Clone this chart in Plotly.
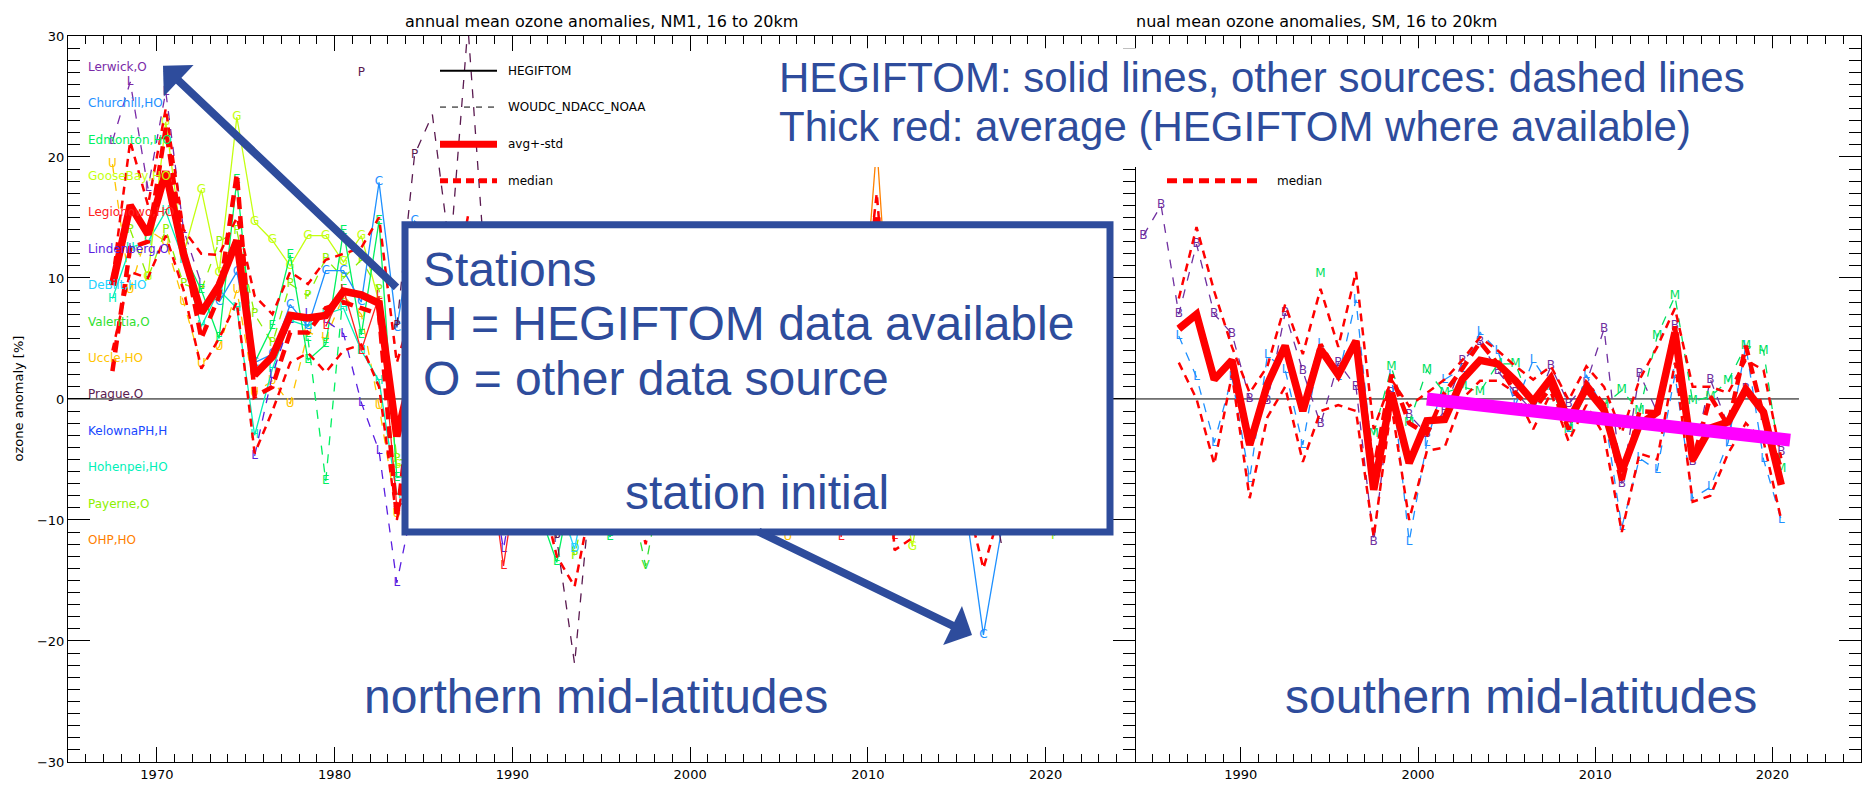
import plotly.graph_objects as go

W, H = 1865, 794
BLUE = "#2E4C9C"

def px(p):
    return p / W

def py(p):
    return 1 - p / H

# ---------------- Northern mid-latitudes (NM1) ----------------
nm_years = list(range(1967, 2022))
nm_avg = [9.4, 16.0, 13.6, 18.8, 12.0, 7.1, 9.4, 13.1, 2.0, 3.5, 6.9, 6.7, 6.9, 8.9, 8.6, 7.9, -3.1,
          3.0, 4.0, 1.0, 6.0, 3.0, -4.0, -1.0, -2.0, -7.0, -9.0, -2.0, -5.0, -1.0, -6.0, 1.0, -2.0,
          -1.0, -3.0, -1.0, -4.0, 0.0, -5.0, -1.0, -2.0, -6.0, -1.0, 15.0, -7.0, -6.0, -2.0, -1.0,
          -3.0, -8.0, -4.0, -2.0, 0.0, -3.0, -4.0]
nm_upper = [10.0, 21.3, 16.0, 24.0, 14.0, 12.0, 11.9, 15.0, 8.5, 7.0, 10.5, 9.5, 11.5, 12.0, 12.5, 15.0, 3.0,
            8.0, 10.0, 7.0, 15.1, 8.0, 2.0, 4.0, 3.0, -1.0, -2.0, 4.0, 1.0, 4.0, 0.0, 6.0, 3.0,
            4.0, 2.0, 4.0, 1.0, 5.0, 0.0, 4.0, 3.0, -1.0, 4.0, 17.0, -1.0, 0.0, 3.0, 4.0,
            2.0, -2.0, 1.0, 3.0, 5.0, 2.0, 1.0]
nm_lower = [4.0, 10.5, 10.0, 13.5, 9.0, 2.5, 5.0, 8.0, -4.5, -1.0, 3.0, 3.8, 2.2, 4.0, 4.5, 1.0, -10.0,
            -2.0, -2.0, -5.0, -3.0, -2.0, -10.0, -6.0, -7.0, -13.0, -15.5, -8.0, -11.0, -6.0, -12.0, -4.0, -7.0,
            -6.0, -8.0, -6.0, -9.0, -5.0, -10.0, -6.0, -7.0, -11.0, -6.0, 9.0, -12.5, -11.5, -7.0, -6.0,
            -8.0, -14.0, -9.0, -7.0, -5.0, -8.0, -9.0]
nm_median = [2.3, 12.5, 13.0, 22.4, 12.5, 5.0, 8.5, 18.6, 0.2, 1.0, 5.5, 5.5, 7.5, 8.0, 7.5, 7.0, -9.8,
             2.0, 4.0, 0.0, 6.0, 2.0, -4.0, -1.0, -2.0, -7.0, -9.0, -2.0, -5.0, -1.0, -6.0, 1.0, -2.0,
             -1.0, -3.0, -1.0, -4.0, 0.0, -5.0, -1.0, -2.0, -6.0, -1.0, 12.0, -7.0, -6.0, -2.0, -1.0,
             -3.0, -8.0, -4.0, -2.0, 0.0, -3.0, -4.0]

nm_station_labels = ["Lerwick,O", "Churchill,HO", "Edmonton,HO", "GooseBay,HO", "Legionowo,HO",
                     "Lindenberg,O", "DeBilt,HO", "Valentia,O", "Uccle,HO", "Prague,O",
                     "KelownaPH,H", "Hohenpei,HO", "Payerne,O", "OHP,HO"]
nm_station_colors = ["#7A2AA8", "#1E90FF", "#00F060", "#C4FF10", "#FF2020",
                     "#5A1EE0", "#22D3FF", "#30E030", "#FFC400", "#5A1A50",
                     "#1848FF", "#00F0B8", "#8CF000", "#FF8000"]

lerwick_years = [1967, 1968, 1969, 1970, 1971, 1972]
lerwick_vals = [21.3, 26.2, 17.4, 25.4, 14.0, 9.5]
churchill_years = [1973, 1974, 1975, 1976, 1977, 1978, 1979, 1980, 1981, 1982, 1983, 1984, 2000, 2015, 2016, 2017, 2018]
churchill_vals = [8.0, 10.5, 3.0, 3.7, 7.8, 6.0, 10.6, 10.6, 8.0, 17.9, 5.9, 14.7, -3.0, -9.0, -19.5, -11.0, -6.0]
edmonton_years = [1971, 1972, 1973, 1974, 1975, 1976, 1977, 1978, 1979, 1980, 1981, 1982, 1983, 1990, 1992, 1993, 1995, 1996]
edmonton_vals = [12.0, 9.0, 5.0, 18.1, 3.0, 6.0, 11.9, 3.2, 4.5, 13.9, 5.3, 14.7, -6.5, -5.0, -13.5, -6.0, -11.4, -5.0]
edmonton_o_years = [1978, 1979, 1980]
edmonton_o_vals = [5.0, -6.8, 9.0]
goosebay_years = [1969, 1970, 1971, 1972, 1973, 1974, 1975, 1976, 1977, 1978, 1979, 1980, 1981, 1982, 1983, 2000, 2011, 2012, 2013]
goosebay_vals = [10.1, 22.9, 12.0, 17.3, 10.4, 23.3, 14.6, 13.1, 11.0, 13.5, 13.5, 11.3, 13.5, 8.0, -5.5, -4.0, -4.0, -12.2, -4.0]
legionowo_years = [1979, 1980, 1981, 1982, 1983, 1988, 1989, 1990, 2007, 2008, 2009, 2010, 2011, 2012]
legionowo_vals = [6.0, 9.0, 4.0, 8.5, -9.0, -3.0, -13.8, -4.0, -3.0, -11.4, -2.0, -3.0, -11.3, -3.0]
lindenberg_years = [1975, 1976, 1977, 1978, 1979, 1980, 1981, 1982, 1983, 1984, 1988, 1989, 1990]
lindenberg_vals = [-4.7, 2.0, 6.5, 7.0, 6.5, 5.4, -0.3, -4.3, -15.2, -8.0, -4.0, -12.4, -4.0]
debilt_years = [1992, 1993, 1994]
debilt_vals = [-8.0, -12.4, -5.0]
valentia_years = [1995, 1996, 1997, 1998]
valentia_vals = [-5.0, -7.0, -13.8, -6.0]
uccle_years = [1967, 1968, 1969, 1970, 1971, 1972, 1973, 1974, 1975, 1976, 1977, 1978, 1979, 1980, 1981, 1982, 1983, 2004, 2005, 2006]
uccle_vals = [19.4, 9.0, 14.0, 13.0, 8.0, 2.9, 4.3, 9.0, 0.5, 1.5, -0.4, 5.5, 5.0, 8.5, 7.0, -0.6, -9.5, -5.0, -11.4, -4.0]
prague_years = [1981, 1982, 1983, 1984, 1985, 1986, 1987, 1988, 1991, 1992, 1993, 1994, 2016, 2017, 2018]
prague_vals = [26.9, None, 6.0, 20.2, 23.5, 12.0, 30.8, 10.0, -5.0, -11.6, -21.9, -6.0, -4.0, -11.9, -5.0]
hohenpei_years = [1967, 1968, 1969, 1970, 1971, 1972, 1973, 1974, 1975, 1976, 1977, 1978, 1979, 1980, 1981, 1982, 1983]
hohenpei_vals = [8.3, 12.5, 13.0, 15.5, 11.5, 6.0, 9.0, 7.5, -3.0, 2.5, 6.5, 6.0, 7.0, 7.5, 4.0, 1.5, -7.9]
payerne_years = [1968, 1969, 1970, 1971, 1972, 1973, 1974, 1975, 1976, 1977, 1978, 1979, 1980, 1981, 1982, 1983, 1992, 1993, 1994, 2019, 2020, 2021]
payerne_vals = [14.0, 10.0, 14.0, 9.5, 9.0, 13.0, 13.9, 7.0, 4.6, 9.5, 8.5, 11.6, 10.0, 11.5, 9.0, -5.0, -6.0, -13.0, -6.0, -5.0, -11.3, -5.0]
ohp_years = [2009, 2010, 2011]
ohp_vals = [2.0, 21.0, -1.0]

# (years, values, initial, colour, dash)
nm_stations = [
    (lerwick_years, lerwick_vals, "L", "#7A2AA8", "dash"),
    (uccle_years, uccle_vals, "U", "#FFC400", "dash"),
    (payerne_years, payerne_vals, "P", "#8CF000", "dash"),
    (hohenpei_years, hohenpei_vals, "H", "#00F0B8", "solid"),
    (goosebay_years, goosebay_vals, "G", "#C4FF10", "solid"),
    (edmonton_years, edmonton_vals, "E", "#00F060", "solid"),
    (edmonton_o_years, edmonton_o_vals, "E", "#00F060", "dash"),
    (churchill_years, churchill_vals, "C", "#1E90FF", "solid"),
    (lindenberg_years, lindenberg_vals, "L", "#5A1EE0", "dash"),
    (legionowo_years, legionowo_vals, "L", "#FF2020", "solid"),
    (debilt_years, debilt_vals, "D", "#22D3FF", "solid"),
    (valentia_years, valentia_vals, "V", "#30E030", "dash"),
    (prague_years, prague_vals, "P", "#5A1A50", "dash"),
    (ohp_years, ohp_vals, "O", "#FF8000", "solid"),
]

# ---------------- Southern mid-latitudes (SM) ----------------
sm_years = list(range(1986, 2021))
sm_avg = [5.8, 7.0, 1.6, 3.2, -3.8, 1.2, 4.4, -1.0, 4.1, 2.0, 4.8, -7.5, 0.5, -5.3, -1.8, -1.7, 1.6, 3.2,
          2.9, 1.5, -0.2, 1.7, -1.8, 0.9, -0.9, -6.0, -2.1, -1.1, 5.5, -5.0, -2.4, -1.9, 0.8, -1.1, -7.1]
sm_upper = [8.3, 14.2, 8.9, 4.3, 0.5, 2.7, 7.8, 3.7, 9.1, 4.3, 10.5, -2.5, 1.6, -0.6, 0.5, 1.6, 3.2, 5.1,
            4.0, 2.7, 1.6, 2.7, -0.1, 2.7, 1.0, -2.8, 1.6, 4.3, 7.5, 1.0, 1.0, 0.5, 3.2, 2.4, -4.9]
sm_lower = [3.0, 0.0, -5.4, 2.0, -8.2, -1.5, 1.0, -5.2, -1.0, -0.5, -1.0, -11.4, -0.5, -10.0, -4.3, -4.0, 0.0, 1.5,
            1.5, 0.5, -2.5, 0.5, -3.5, -0.5, -3.0, -11.0, -4.5, -5.0, 3.0, -8.5, -8.0, -4.5, -2.0, -3.5, -10.0]
sm_median = [5.8, 7.0, 1.6, 3.2, -3.8, 1.2, 4.4, -1.0, 4.5, 2.0, 4.8, -6.0, 2.0, -2.0, -2.9, 0.5, 2.5, 4.7,
             2.9, 0.5, -1.0, 1.0, -2.5, 1.3, -0.5, -7.0, -1.0, -1.1, 6.0, -5.2, 0.2, -2.2, 4.4, -1.5, -5.8]

broad_years = list(range(1984, 2021))
broad_vals = [13.5, 16.0, 7.0, 12.8, 7.0, 5.4, 0.0, -0.2, 7.1, 2.3, -2.1, 3.0, 1.0, -11.8, 0.5, -1.3, -2.9, -1.0,
              3.1, 4.7, 2.3, 0.5, -1.0, 2.7, -0.4, 1.3, 5.8, -7.0, 2.1, -1.1, 6.0, -5.2, 1.6, -2.2, 0.8, -1.5, -4.4]
lauder_years = list(range(1986, 2021))
lauder_vals = [5.2, 1.8, -3.6, 1.8, -6.6, 3.6, 2.4, -3.8, 4.5, 1.8, 8.2, -6.0, 2.0, -11.8, -3.6, 1.6, 2.5, 5.5,
               4.0, -0.5, 3.2, 1.0, -2.5, 2.0, -1.0, -10.6, -4.9, -5.9, 2.0, -8.2, -7.3, -3.6, 4.4, -5.0, -10.0]
macq_years = [1994, 1995, 1996, 1997, 1998, 1999, 2000, 2001, 2002, 2003, 2004, 2005, 2006, 2007, 2008, 2009,
              2010, 2011, 2012, 2013, 2014, 2015, 2016, 2017, 2018, 2019, 2020]
macq_vals = [10.3, None, None, -2.9, 2.6, -2.0, 2.4, 0.5, 1.0, 0.6, 2.9, 2.9, -1.0, 1.0, -2.6, 0.5,
             -0.5, 0.7, -1.0, 5.2, 8.5, -0.2, 0.2, 1.5, 4.4, 4.0, -5.8]

sm_stations = [
    (broad_years, broad_vals, "B", "#7030A0", "dash"),
    (lauder_years, lauder_vals, "L", "#1E90FF", "dash"),
    (macq_years, macq_vals, "M", "#00E060", "dash"),
]

trend_years = [2000.5, 2021.0]
trend_vals = [0.0, -3.4]


def mid(years):
    return [y + 0.5 for y in years]


fig = go.Figure()
LETTER_FONT = dict(family="DejaVu Sans", size=12)


def covered(year, val, hidden):
    # letters that fall under the white "Stations" call-out are not drawn
    if val is None:
        return True
    if hidden is None:
        return False
    y0, lo, hi = hidden
    return year >= y0 and lo < val < hi


def add_panel(stations, years, lower, upper, median, avg, xa, ya, hidden=None):
    for yrs, vals, ini, col, dash in stations:
        fig.add_trace(go.Scatter(
            x=mid(yrs), y=vals, mode="lines+text",
            text=["" if covered(yr, v, hidden) else ini for yr, v in zip(yrs, vals)],
            textposition="middle center",
            textfont=dict(LETTER_FONT, color=col),
            line=dict(color=col, width=1.3, dash=dash),
            connectgaps=False, xaxis=xa, yaxis=ya, hoverinfo="skip"))
    for env in (upper, lower):
        fig.add_trace(go.Scatter(x=mid(years), y=env, mode="lines",
                                 line=dict(color="#FF0000", width=2.5, dash="8px,6px"),
                                 xaxis=xa, yaxis=ya, hoverinfo="skip"))
    fig.add_trace(go.Scatter(x=mid(years), y=median, mode="lines",
                             line=dict(color="#FF0000", width=4.5, dash="12px,7px"),
                             xaxis=xa, yaxis=ya, hoverinfo="skip"))
    fig.add_trace(go.Scatter(x=mid(years), y=avg, mode="lines",
                             line=dict(color="#FF0000", width=7.5),
                             xaxis=xa, yaxis=ya, hoverinfo="skip"))


add_panel(nm_stations, nm_years, nm_lower, nm_upper, nm_median, nm_avg, "x", "y", hidden=(1984, -11.0, 14.4))
add_panel(sm_stations, sm_years, sm_lower, sm_upper, sm_median, sm_avg, "x2", "y2")
fig.add_trace(go.Scatter(x=trend_years, y=trend_vals, mode="lines",
                         line=dict(color="#FF00FF", width=13),
                         xaxis="x2", yaxis="y2", hoverinfo="skip"))

TICKFONT = dict(family="DejaVu Sans", size=13, color="black")
xcommon = dict(showline=True, linecolor="black", linewidth=1, mirror="ticks",
               ticks="inside", ticklen=15, tickwidth=1, tickcolor="black",
               dtick=10, tick0=1970, showgrid=False, zeroline=False, tickfont=TICKFONT,
               minor=dict(dtick=1, tick0=1965, ticks="inside", ticklen=8, tickcolor="black", tickwidth=1,
                          showgrid=False))
ycommon = dict(showline=True, linecolor="black", linewidth=1,
               ticks="inside", ticklen=22, tickwidth=1, tickcolor="black",
               dtick=10, tick0=0, range=[-30, 30], showgrid=False, zeroline=False, tickfont=TICKFONT,
               minor=dict(dtick=1, ticks="inside", ticklen=12, tickcolor="black", tickwidth=1,
                          showgrid=False),
               domain=[py(769.5), py(29.5)])

fig.update_layout(
    width=W, height=H, margin=dict(l=0, r=0, t=0, b=0),
    paper_bgcolor="white", plot_bgcolor="white", showlegend=False,
    xaxis=dict(xcommon, domain=[px(68), px(1134.5)], range=[1965, 2025], anchor="y"),
    yaxis=dict(ycommon, anchor="x", mirror="ticks"),
    xaxis2=dict(xcommon, domain=[px(1134.5), px(1861)], range=[1984, 2025], anchor="y2"),
    yaxis2=dict(ycommon, anchor="x2", side="right", showticklabels=False, mirror=False),
)

shapes = []
# zero lines
shapes.append(dict(type="line", xref="x", yref="y", x0=1965, x1=2025, y0=0, y1=0,
                   line=dict(color="black", width=1), layer="below"))
shapes.append(dict(type="line", xref="x2", yref="y2", x0=1984, x1=2021.5, y0=0, y1=0,
                   line=dict(color="black", width=1), layer="below"))
# legend samples (left)
leg_y = [65, 102, 140, 177]
leg_styles = [("black", 2, "solid"), ("black", 1, "6px,6px"), ("#FF0000", 7, "solid"), ("#FF0000", 5, "8px,5px")]
for yy, (c, w, d) in zip(leg_y, leg_styles):
    shapes.append(dict(type="line", xref="paper", yref="paper", x0=px(440), x1=px(497), y0=py(yy), y1=py(yy),
                       line=dict(color=c, width=w, dash=d)))
shapes.append(dict(type="line", xref="paper", yref="paper", x0=px(1167), x1=px(1261), y0=py(177), y1=py(177),
                   line=dict(color="#FF0000", width=5, dash="10px,6px")))
# overlay boxes
shapes.append(dict(type="rect", xref="paper", yref="paper", x0=px(770), x1=px(1775), y0=py(163), y1=py(42),
                   fillcolor="white", line=dict(width=0), layer="above"))
shapes.append(dict(type="rect", xref="paper", yref="paper", x0=px(405), x1=px(1110), y0=py(535), y1=py(222),
                   fillcolor="white", line=dict(color=BLUE, width=7), layer="above"))
fig.update_layout(shapes=shapes)

ann = []
SMALL = dict(family="DejaVu Sans", size=16, color="black")
ann.append(dict(text="annual mean ozone anomalies, NM1, 16 to 20km", x=px(601), y=py(15), xref="paper", yref="paper",
                showarrow=False, xanchor="center", yanchor="middle", font=SMALL))
ann.append(dict(text="nual mean ozone anomalies, SM, 16 to 20km", x=px(1134), y=py(15), xref="paper", yref="paper",
                showarrow=False, xanchor="left", yanchor="middle", font=SMALL))
ann.append(dict(text="ozone anomaly [%]", x=px(18), y=py(399), xref="paper", yref="paper", textangle=-90,
                showarrow=False, xanchor="center", yanchor="middle", font=dict(family="DejaVu Sans", size=13, color="black")))
for t, yy in zip(["HEGIFTOM", "WOUDC_NDACC_NOAA", "avg+-std", "median"], leg_y):
    ann.append(dict(text=t, x=px(506), y=py(yy), xref="paper", yref="paper", showarrow=False,
                    xanchor="left", yanchor="middle", font=dict(family="DejaVu Sans", size=12, color="black")))
ann.append(dict(text="median", x=px(1275), y=py(177), xref="paper", yref="paper", showarrow=False,
                xanchor="left", yanchor="middle", font=dict(family="DejaVu Sans", size=12, color="black")))
for i, (lab, col) in enumerate(zip(nm_station_labels, nm_station_colors)):
    ann.append(dict(text=lab, x=px(86), y=py(61 + i * 37.1), xref="paper", yref="paper", showarrow=False,
                    xanchor="left", yanchor="middle", font=dict(family="DejaVu Sans", size=12, color=col)))

BIG = dict(family="Liberation Sans", color=BLUE)
ann.append(dict(text="HEGIFTOM: solid lines, other sources: dashed lines", x=px(777), y=py(72), xref="paper",
                yref="paper", showarrow=False, xanchor="left", yanchor="middle", font=dict(BIG, size=42)))
ann.append(dict(text="Thick red: average (HEGIFTOM where available)", x=px(777), y=py(122), xref="paper",
                yref="paper", showarrow=False, xanchor="left", yanchor="middle", font=dict(BIG, size=42)))
box_lines = [("Stations", 268, "left"), ("H = HEGIFTOM data available", 323, "left"),
             ("O = other data source", 379, "left"), ("station initial", 495, "center")]
for t, yy, al in box_lines:
    ann.append(dict(text=t, x=px(421) if al == "left" else px(757), y=py(yy), xref="paper", yref="paper",
                    showarrow=False, xanchor=al, yanchor="middle", font=dict(BIG, size=48)))
ann.append(dict(text="northern mid-latitudes", x=px(362), y=py(703), xref="paper", yref="paper", showarrow=False,
                xanchor="left", yanchor="middle", font=dict(BIG, size=48)))
ann.append(dict(text="southern mid-latitudes", x=px(1283), y=py(703), xref="paper", yref="paper", showarrow=False,
                xanchor="left", yanchor="middle", font=dict(BIG, size=48)))
# arrows
ann.append(dict(text="", x=px(163), y=py(60), xref="paper", yref="paper", ax=235, ay=223,
                showarrow=True, arrowhead=1, arrowsize=0.9, arrowwidth=8, arrowcolor=BLUE))
ann.append(dict(text="", x=px(972), y=py(640), xref="paper", yref="paper", ax=-215, ay=-104,
                showarrow=True, arrowhead=1, arrowsize=0.9, arrowwidth=8, arrowcolor=BLUE))
fig.update_layout(annotations=ann)

fig.write_html("out.html")
